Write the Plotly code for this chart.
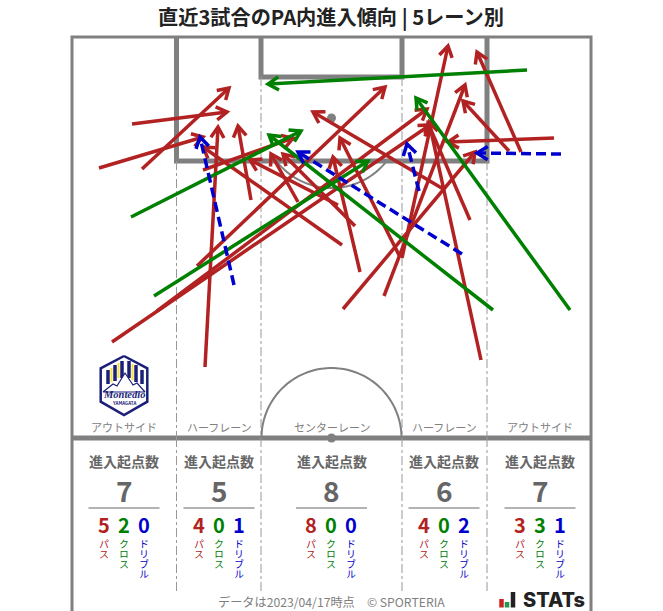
import math
import plotly.graph_objects as go

TITLE = "直近3試合のPA内進入傾向 | 5レーン別"
FOOT = "データは2023/04/17時点　© SPORTERIA"
LANES = ["アウトサイド", "ハーフレーン", "センターレーン", "ハーフレーン", "アウトサイド"]
TOTALS = [7, 5, 8, 6, 7]
PASS_N = [5, 4, 8, 4, 3]
CROSS_N = [2, 0, 0, 0, 3]
DRIB_N = [0, 1, 0, 2, 1]

# start x, start y, end x, end y on the chart's pitch scale
PASSES = [
    (99, 168, 203, 137), (142, 169, 229, 88), (132, 124, 227, 112),
    (112, 342, 430, 125), (157, 311, 427, 109),
    (205, 367, 218, 127), (251, 200, 238, 126), (203, 170, 293, 138), (197, 266, 385, 87),
    (342, 245, 203, 147), (298, 202, 271, 154), (355, 226, 283, 154), (338, 205, 250, 160),
    (360, 272, 333, 157), (400, 257, 340, 138), (343, 309, 475, 152), (384, 296, 465, 85),
    (481, 360, 429, 122), (470, 220, 428, 123), (445, 190, 313, 112), (402, 258, 448, 46),
    (521, 152, 477, 52), (509, 151, 463, 101), (554, 138, 448, 142),
]
CROSSES = [
    (131, 217, 301, 131), (154, 296, 368, 161),
    (527, 70, 268, 84), (493, 310, 269, 135), (570, 310, 416, 98),
]
DRIBBLES = [
    (234, 285, 200, 137), (462, 254, 298, 152), (419, 191, 407, 144), (561, 154, 477, 153),
]
RED, GREEN, BLUE, GREY, TXT = "#b22222", "#008000", "#0000cd", "#808080", "#666666"
NAVY = "#1c1f7a"
FONT = "Noto Sans CJK JP"
L, R, T, M, B = 72, 591, 37, 438, 611
LANE_X = [72, 176.5, 261, 402, 487, 591]

fig = go.Figure()


def seg(pts, color, width, dash="solid", name=""):
    xs, ys = [], []
    for p in pts:
        xs += [q[0] for q in p] + [None]
        ys += [q[1] for q in p] + [None]
    fig.add_trace(go.Scatter(x=xs, y=ys, mode="lines", name=name, hoverinfo="skip",
                             line=dict(color=color, width=width, dash=dash, simplify=False)))


def poly(pts, fill, line, width):
    fig.add_trace(go.Scatter(x=[p[0] for p in pts], y=[p[1] for p in pts], mode="lines", fill="toself",
                             fillcolor=fill, hoverinfo="skip", line=dict(color=line, width=width)))


# pitch
seg([[(L, B + 5), (L, T), (R, T), (R, B + 5)]], GREY, 3)
seg([[(L, M), (R, M)]], GREY, 5)
seg([[(176.5, T), (176.5, 161), (487, 161), (487, T)], [(261, T), (261, 77), (402, 77), (402, T)]], GREY, 5)
for x in LANE_X[1:-1]:
    seg([[(x, 161 if x in (176.5, 487) else 77), (x, M)], [(x, M), (x, 591)]], "#999999", 1, "dashdot")


def arc(cx, cy, r, a0, a1):
    return [(cx + r * math.cos(math.radians(a)), cy + r * math.sin(math.radians(a)))
            for a in range(a0, a1 + 1, 2)]


seg([arc(331.5, 438, 70, 180, 360)], GREY, 2)
seg([arc(331.5, 118, 70, 38, 142)], GREY, 2)
fig.add_trace(go.Scatter(x=[331.5, 331.5], y=[118, 438], mode="markers", hoverinfo="skip",
                         marker=dict(color=GREY, size=9)))


def heads(rows):
    out = []
    for x0, y0, x1, y1 in rows:
        a = math.atan2(y0 - y1, x0 - x1)
        out.append([(x1 + 12.5 * math.cos(a + .55), y1 + 12.5 * math.sin(a + .55)), (x1, y1),
                    (x1 + 12.5 * math.cos(a - .55), y1 + 12.5 * math.sin(a - .55))])
    return out


def shafts(rows):
    return [[(r[0], r[1]), (r[2], r[3])] for r in rows]


seg(shafts(PASSES), RED, 3.5, name="パス")
seg(heads(PASSES), RED, 3.5)
seg(shafts(CROSSES), GREEN, 3.5, name="クロス")
seg(heads(CROSSES), GREEN, 3.5)
seg(shafts(DRIBBLES), BLUE, 3.5, "10px,5px", "ドリブル")
seg(heads(DRIBBLES), BLUE, 3.5)

ann = []


def text(x, y, s, size, color, weight=400, font=FONT):
    ann.append(dict(x=x, y=y, text=s, xref="x", yref="y", showarrow=False, xanchor="center", yanchor="middle",
                    font=dict(family=font, size=size, color=color, weight=weight)))


text(331, 16.5, TITLE, 20.2, "#222222", 700)
text(331.5, 602, FOOT, 12.2, "#808080")
for i, name in enumerate(LANES):
    cx = [124, 219, 331.5, 444, 540][i]
    text(cx, 427, name, 11, "#808080")
    text(cx, 460.5, "進入起点数", 14, TXT, 700)
    text(cx, 489.5, str(TOTALS[i]), 28, TXT, 700)
    seg([[(cx - 35.5, 508), (cx + 35.5, 508)]], TXT, 1)
    for dx, n, col, label in ((-20.5, PASS_N[i], RED, "パス"), (-0.5, CROSS_N[i], GREEN, "クロス"), (19.5, DRIB_N[i], BLUE, "ドリブル")):
        text(cx + dx, 524.5, str(n), 20, col, 700)
        text(cx + dx, 552, label, 10, col)

# club badge
hexa = [(124, 356), (147.3, 368.3), (147.3, 401.7), (124, 415), (100.7, 401.7), (100.7, 368.3), (124, 356)]
poly(hexa, "white", NAVY, 2.5)
seg([[(108, 370), (108, 384)], [(115, 365), (115, 381)], [(122, 361), (122, 378)], [(129, 361), (129, 378)], [(136, 365), (136, 382)], [(142, 370), (142, 384)]], NAVY, 3.5)
seg([[(111.5, 368), (111.5, 382)], [(132.5, 364), (132.5, 380)], [(118.5, 363), (118.5, 378)]], "#f6e33a", 2)
poly([(103, 392), (113, 384), (117, 386), (125, 373), (133, 385), (137, 383), (145, 392), (103, 392)], "white", NAVY, 1.2)
text(124, 394, "<i>Montedio</i>", 10.5, NAVY, 700, "Liberation Serif")
text(124, 403, "YAMAGATA", 4.5, NAVY, 700)
# footer mark
seg([[(501.5, 599), (501.5, 607.5)]], "#cc2222", 4.5)
seg([[(507, 602), (507, 607.5)]], "#1f9a4f", 4.5)
seg([[(513, 592), (513, 607.5)]], "#222222", 4.5)
text(554, 600, "STATs", 20, "#222222", 800, "Inter")

fig.update_layout(width=663, height=611, margin=dict(l=0, r=0, t=0, b=0), showlegend=False,
                  paper_bgcolor="white", plot_bgcolor="white", annotations=ann,
                  xaxis=dict(range=[0, 663], visible=False, fixedrange=True),
                  yaxis=dict(range=[611, 0], visible=False, fixedrange=True))

# the three small labels run top to bottom, as real vertical text
VERTICAL = """
document.body.style.margin='0';
document.documentElement.style.overflow='hidden';
document.querySelectorAll('.annotation-text').forEach(function(t){
  if(['パス','クロス','ドリブル'].indexOf(t.textContent)<0) return;
  var a=t.getBoundingClientRect(), cx=a.left+a.width/2;
  t.style.writingMode='vertical-rl';
  t.style.textAnchor='start';
  var b=t.getBoundingClientRect();
  t.setAttribute('x', parseFloat(t.getAttribute('x')||0)+cx-(b.left+b.width/2));
  t.setAttribute('y', parseFloat(t.getAttribute('y')||0)+539-b.top);
});
"""
fig.write_html("out.html", config=dict(displayModeBar=False), post_script=VERTICAL)
